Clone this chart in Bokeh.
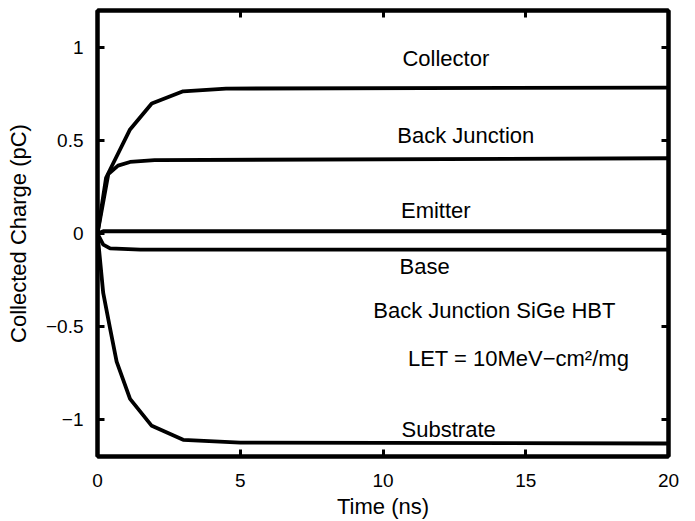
from bokeh.plotting import figure
from bokeh.models import FixedTicker, LinearAxis, Range1d, Label
from bokeh.embed import file_html
from bokeh.resources import INLINE

# Data (ns, pC)
collector_t = [0, 0.3, 1.14, 1.9, 3.0, 4.5, 20]
collector_q = [0, 0.30, 0.56, 0.70, 0.765, 0.78, 0.785]
backj_t = [0, 0.38, 0.72, 1.14, 2.0, 20]
backj_q = [0, 0.32, 0.365, 0.385, 0.395, 0.405]
emitter_t = [0, 0.2, 20]
emitter_q = [0, 0.012, 0.012]
base_t = [0, 0.2, 0.44, 1.5, 20]
base_q = [0, -0.06, -0.08, -0.087, -0.087]
subs_t = [0, 0.2, 0.44, 0.67, 1.14, 1.9, 3.0, 5.0, 20]
subs_q = [0, -0.32, -0.51, -0.69, -0.89, -1.035, -1.11, -1.125, -1.13]

x_ticks = [0, 5, 10, 15, 20]
y_ticks = [-1, -0.5, 0, 0.5, 1]
y_tick_labels = {-1: "\u22121", -0.5: "\u22120.5", 0: "0", 0.5: "0.5", 1: "1"}

labels = [
    ("Collector", 12.2, 0.944),
    ("Back Junction", 12.9, 0.53),
    ("Emitter", 11.85, 0.123),
    ("Base", 11.46, -0.176),
    ("Back Junction SiGe HBT", 13.9, -0.417),
    ("LET = 10MeV\u2212cm\u00b2/mg", 14.75, -0.674),
    ("Substrate", 12.3, -1.053),
]

FONT = "Liberation Sans"

p = figure(width=695, height=521, output_backend="svg", toolbar_location=None,
           x_range=Range1d(0, 20), y_range=Range1d(-1.2, 1.2),
           min_border_left=97, min_border_right=27, min_border_top=10, min_border_bottom=61)
p.grid.visible = False
p.background_fill_color = "white"
p.border_fill_color = "white"
p.outline_line_color = "black"
p.outline_line_width = 4

for t, q in [(collector_t, collector_q), (backj_t, backj_q), (emitter_t, emitter_q),
             (base_t, base_q), (subs_t, subs_q)]:
    p.line(t, q, line_color="black", line_width=3.8)

def style(ax):
    ax.axis_line_color = "black"
    ax.axis_line_width = 4
    ax.major_tick_in = 7
    ax.major_tick_out = 0
    ax.major_tick_line_width = 3
    ax.minor_tick_line_color = None
    ax.major_label_text_font = FONT
    ax.major_label_text_font_size = "19px"
    ax.major_label_text_color = "black"
    ax.axis_label_text_font = FONT
    ax.axis_label_text_font_size = "22px"
    ax.axis_label_text_font_style = "normal"
    ax.axis_label_text_color = "black"

xa = p.xaxis[0]
xa.ticker = FixedTicker(ticks=x_ticks)
xa.axis_label = "Time (ns)"
style(xa)
xa.major_label_standoff = 17
xa.axis_label_standoff = 4

ya = p.yaxis[0]
ya.ticker = FixedTicker(ticks=y_ticks)
ya.major_label_overrides = y_tick_labels
ya.axis_label = "Collected Charge (pC)"
style(ya)
ya.major_label_standoff = 14
ya.axis_label_standoff = 12

top = LinearAxis(ticker=FixedTicker(ticks=x_ticks))
style(top)
top.major_label_overrides = {t: "" for t in x_ticks}
top.major_label_standoff = 0
p.add_layout(top, "above")
right = LinearAxis(ticker=FixedTicker(ticks=y_ticks))
style(right)
right.major_label_overrides = {t: "" for t in y_ticks}
right.major_label_standoff = 0
p.add_layout(right, "right")

for txt, x, y in labels:
    p.add_layout(Label(x=x, y=y, text=txt, text_align="center", text_baseline="middle",
                       text_font=FONT, text_font_size="22px", text_color="black"))

open("out.html", "w").write(file_html(p, INLINE))
